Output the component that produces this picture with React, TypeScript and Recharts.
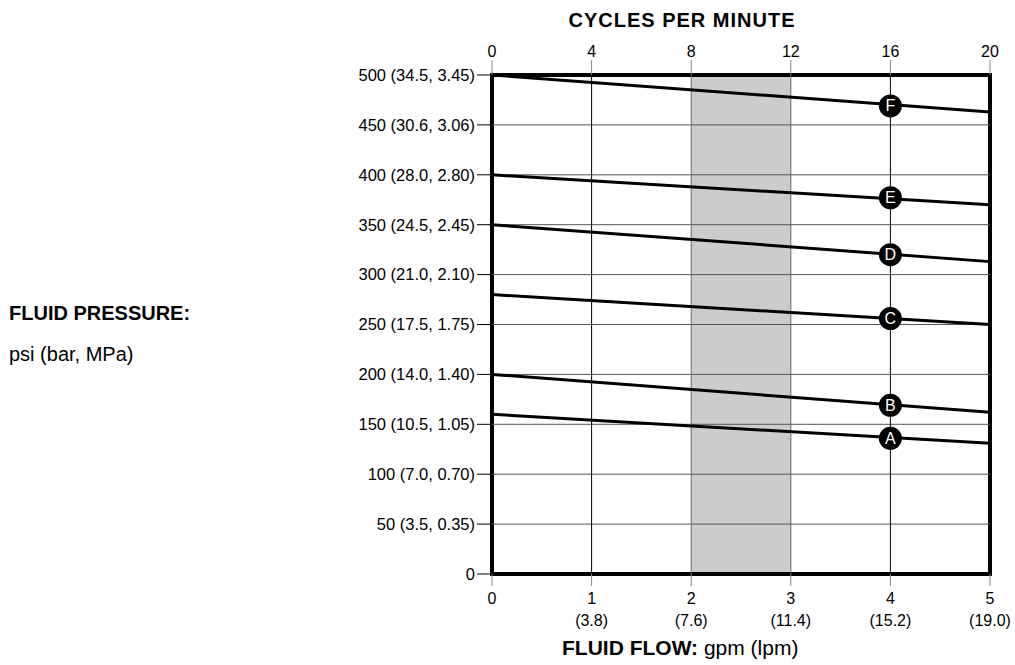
import React from 'react'
import { LineChart, Line, XAxis, YAxis, ReferenceArea, ReferenceLine, Scatter } from 'recharts'

const FONT = '"Liberation Sans", Arial, Helvetica, sans-serif'

const FLOW_TICKS = [0, 1, 2, 3, 4, 5]
const LPM_LABELS = ['', '(3.8)', '(7.6)', '(11.4)', '(15.2)', '(19.0)']
const CPM_TICKS = [0, 4, 8, 12, 16, 20]
const PSI_TICKS = [0, 50, 100, 150, 200, 250, 300, 350, 400, 450, 500]
const PSI_LABELS = [
  '0', '50 (3.5, 0.35)', '100 (7.0, 0.70)', '150 (10.5, 1.05)', '200 (14.0, 1.40)', '250 (17.5, 1.75)',
  '300 (21.0, 2.10)', '350 (24.5, 2.45)', '400 (28.0, 2.80)', '450 (30.6, 3.06)', '500 (34.5, 3.45)',
]

// pump curves: psi at 0 gpm and 5 gpm
const lineA = [{ gpm: 0, psi: 160 }, { gpm: 5, psi: 131 }]
const lineB = [{ gpm: 0, psi: 200 }, { gpm: 5, psi: 162 }]
const lineC = [{ gpm: 0, psi: 280 }, { gpm: 5, psi: 250 }]
const lineD = [{ gpm: 0, psi: 350 }, { gpm: 5, psi: 313 }]
const lineE = [{ gpm: 0, psi: 400 }, { gpm: 5, psi: 370 }]
const lineF = [{ gpm: 0, psi: 500 }, { gpm: 5, psi: 463 }]
const CURVES = [lineA, lineB, lineC, lineD, lineE, lineF]

// curve labels sit at 16 cycles per minute
const markers = [
  { cpm: 16, psi: 136, name: 'A' },
  { cpm: 16, psi: 169, name: 'B' },
  { cpm: 16, psi: 256, name: 'C' },
  { cpm: 16, psi: 320, name: 'D' },
  { cpm: 16, psi: 377, name: 'E' },
  { cpm: 16, psi: 469, name: 'F' },
]

const SHADE_CPM = [8, 12]
const SHADE_GPM = [2, 3]

const FlowTick = ({ x, y, payload }: any) => {
  const i = FLOW_TICKS.indexOf(payload.value)
  return (
    <g>
      <text x={x} y={y + 16} textAnchor="middle" fontSize={16} fill="#000" fontFamily={FONT}>{payload.value}</text>
      {LPM_LABELS[i] && <text x={x} y={y + 38} textAnchor="middle" fontSize={16} fill="#000" fontFamily={FONT}>{LPM_LABELS[i]}</text>}
    </g>
  )
}

const CpmTick = ({ x, y, payload }: any) => (
  <text x={x} y={y - 1} textAnchor="middle" fontSize={16} fill="#000" fontFamily={FONT}>{payload.value}</text>
)

const Marker = ({ cx, cy, payload }: any) => (
  <g>
    <circle cx={cx} cy={cy} r={11.5} fill="#000" />
    <text x={cx} y={cy + 5.5} textAnchor="middle" fontSize={16} fill="#fff" fontFamily={FONT}>{payload.name}</text>
  </g>
)

export default function App() {
  return (
    <div style={{ position: 'absolute', left: 0, top: 0, width: 1015, height: 665, background: '#fff' }}>
      <LineChart width={1015} height={665} margin={{ top: 45, right: 25, bottom: 41, left: 0 }}>
        <XAxis xAxisId="flow" dataKey="gpm" type="number" domain={[0, 5]} ticks={FLOW_TICKS} height={50}
          axisLine={false} tickSize={12} tickMargin={2} tickLine={{ stroke: '#888' }} tick={<FlowTick />} />
        <XAxis xAxisId="cpm" dataKey="cpm" type="number" orientation="top" domain={[0, 20]} ticks={CPM_TICKS} height={30}
          allowDataOverflow axisLine={false} tickSize={15} tickMargin={2} tickLine={{ stroke: '#888' }} tick={<CpmTick />} />
        <YAxis dataKey="psi" type="number" domain={[0, 500]} ticks={PSI_TICKS} width={492} interval={0}
          axisLine={false} tickSize={15} tickMargin={2} tickLine={{ stroke: '#000' }}
          tickFormatter={(v: number) => PSI_LABELS[PSI_TICKS.indexOf(v)]}
          tick={{ fontSize: 16.5, fill: '#000', fontFamily: FONT }} />
        <ReferenceArea xAxisId="cpm" x1={SHADE_CPM[0]} x2={SHADE_CPM[1]} y1={0} y2={500} fill="#cccccc" fillOpacity={1} stroke="none" />
        {PSI_TICKS.slice(1, -1).map(v => (
          <ReferenceLine key={'h' + v} xAxisId="flow" y={v} stroke="#555" strokeWidth={1} />
        ))}
        {FLOW_TICKS.slice(1, -1).map(v => (
          <ReferenceLine key={'v' + v} xAxisId="flow" x={v} stroke={SHADE_GPM.includes(v) ? '#666' : '#000'} strokeWidth={1} />
        ))}
        {CURVES.map((d, i) => (
          <Line key={i} xAxisId="flow" data={d} dataKey="psi" stroke="#000" strokeWidth={3} dot={false}
            isAnimationActive={false} />
        ))}
        <ReferenceArea xAxisId="flow" x1={0} x2={5} y1={0} y2={500} fill="none" stroke="#000" strokeWidth={4} />
        <Scatter xAxisId="cpm" data={markers} dataKey="psi" shape={<Marker />} isAnimationActive={false} />
      </LineChart>
      <svg width={1015} height={665} style={{ position: 'absolute', left: 0, top: 0, pointerEvents: 'none' }} fontFamily={FONT}>
        <text x={682} y={27} textAnchor="middle" fontSize={20} fontWeight="bold" letterSpacing={1}>CYCLES PER MINUTE</text>
        <text x={9} y={320} fontSize={20} fontWeight="bold">FLUID PRESSURE:</text>
        <text x={9} y={361} fontSize={20}>psi (bar, MPa)</text>
        <text x={562} y={655} fontSize={21}>
          <tspan fontWeight="bold">FLUID FLOW:</tspan> gpm (lpm)
        </text>
      </svg>
    </div>
  )
}
